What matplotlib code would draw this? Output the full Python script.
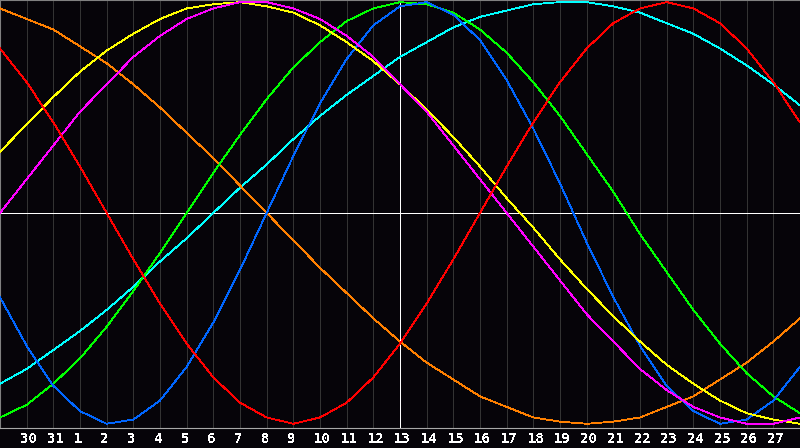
import matplotlib
matplotlib.use("Agg")
import matplotlib.pyplot as plt
import matplotlib.transforms as mtransforms
import numpy as np

# Day categories (one point per day), centre day = 13
days = [29, 30, 31, 1, 2, 3, 4, 5, 6, 7, 8, 9, 10, 11, 12, 13,
        14, 15, 16, 17, 18, 19, 20, 21, 22, 23, 24, 25, 26, 27, 28]
center_day_index = 15

# Series values in percent (-100 .. 100) per day
physical = [-40, -63, -82, -94, -100, -98, -89, -73, -52, -27, 0, 27, 52, 73, 89, 98,
            100, 94, 82, 63, 40, 14, -14, -40, -63, -82, -94, -100, -98, -89, -73]
emotional = [78, 62, 43, 22, 0, -22, -43, -62, -78, -90, -97, -100, -97, -90, -78, -62,
             -43, -22, 0, 22, 43, 62, 78, 90, 97, 100, 97, 90, 78, 62, 43]
intellectual = [-97, -91, -81, -69, -54, -37, -19, 0, 19, 37, 54, 69, 81, 91, 97, 100,
                99, 95, 87, 76, 62, 46, 28, 10, -10, -28, -46, -62, -76, -87, -95]
intuitive = [0, 16, 32, 48, 61, 74, 84, 92, 97, 100, 100, 97, 92, 84, 74, 61,
             48, 32, 16, 0, -16, -32, -48, -61, -74, -84, -92, -97, -100, -100, -97]
aesthetic = [29, 42, 55, 67, 77, 85, 92, 97, 99, 100, 98, 95, 89, 81, 72, 61,
             49, 36, 22, 7, -7, -22, -36, -49, -61, -72, -81, -89, -95, -98, -100]
awareness = [97, 92, 87, 79, 71, 61, 50, 38, 26, 13, 0, -13, -26, -38, -50, -61,
             -71, -79, -87, -92, -97, -99, -100, -99, -97, -92, -87, -79, -71, -61, -50]
spiritual = [-81, -74, -65, -56, -46, -35, -23, -12, 0, 12, 23, 35, 46, 56, 65, 74,
             81, 88, 93, 96, 99, 100, 100, 98, 95, 90, 85, 78, 70, 61, 51]

series = [
    (spiritual, "#00ffff"),
    (awareness, "#ff8000"),
    (intellectual, "#00ff00"),
    (physical, "#0066ff"),
    (aesthetic, "#ffff00"),
    (intuitive, "#ff00ff"),
    (emotional, "#ff0000"),
]

plt.rcParams["text.antialiased"] = False
BG = "#060409"

fig = plt.figure(figsize=(8, 4.48), dpi=100, facecolor=BG)
ax = fig.add_axes([0, 20 / 448, 1, 428 / 448])
ax.set_facecolor(BG)

x = np.arange(len(days))
ax.set_xlim(0, len(days) - 1)
ax.set_ylim(-102, 101)

# vertical day grid
ax.vlines(x, -102, 101, colors="#333333", linewidth=0.6, antialiased=False, zorder=1)

for vals, col in series:
    ax.plot(x, vals, color=col, linewidth=0.6, antialiased=False, zorder=3)

# centre cross
ax.axhline(0, color="white", linewidth=0.6, antialiased=False, zorder=2)
ax.axvline(center_day_index, color="white", linewidth=0.6, antialiased=False, zorder=2)

ax.set_xticks([])
ax.set_yticks([])
ax.spines["right"].set_visible(False)
ax.spines["left"].set_color("#808080")
ax.spines["top"].set_color("#808080")
ax.spines["bottom"].set_color("#a8a8a8")
for s in ["left", "top", "bottom"]:
    ax.spines[s].set_linewidth(0.8)

# day labels
trans = mtransforms.blended_transform_factory(ax.transData, ax.transAxes)
trans = mtransforms.offset_copy(trans, fig=fig, x=-6, y=-11, units="dots")
for i in range(1, len(days) - 1):
    ax.text(x[i], 0, str(days[i]), transform=trans, ha="left", va="center",
            color="white", fontsize=10, fontweight="bold", family="DejaVu Sans Mono")

fig.savefig("out.png", dpi=100, facecolor=BG)
